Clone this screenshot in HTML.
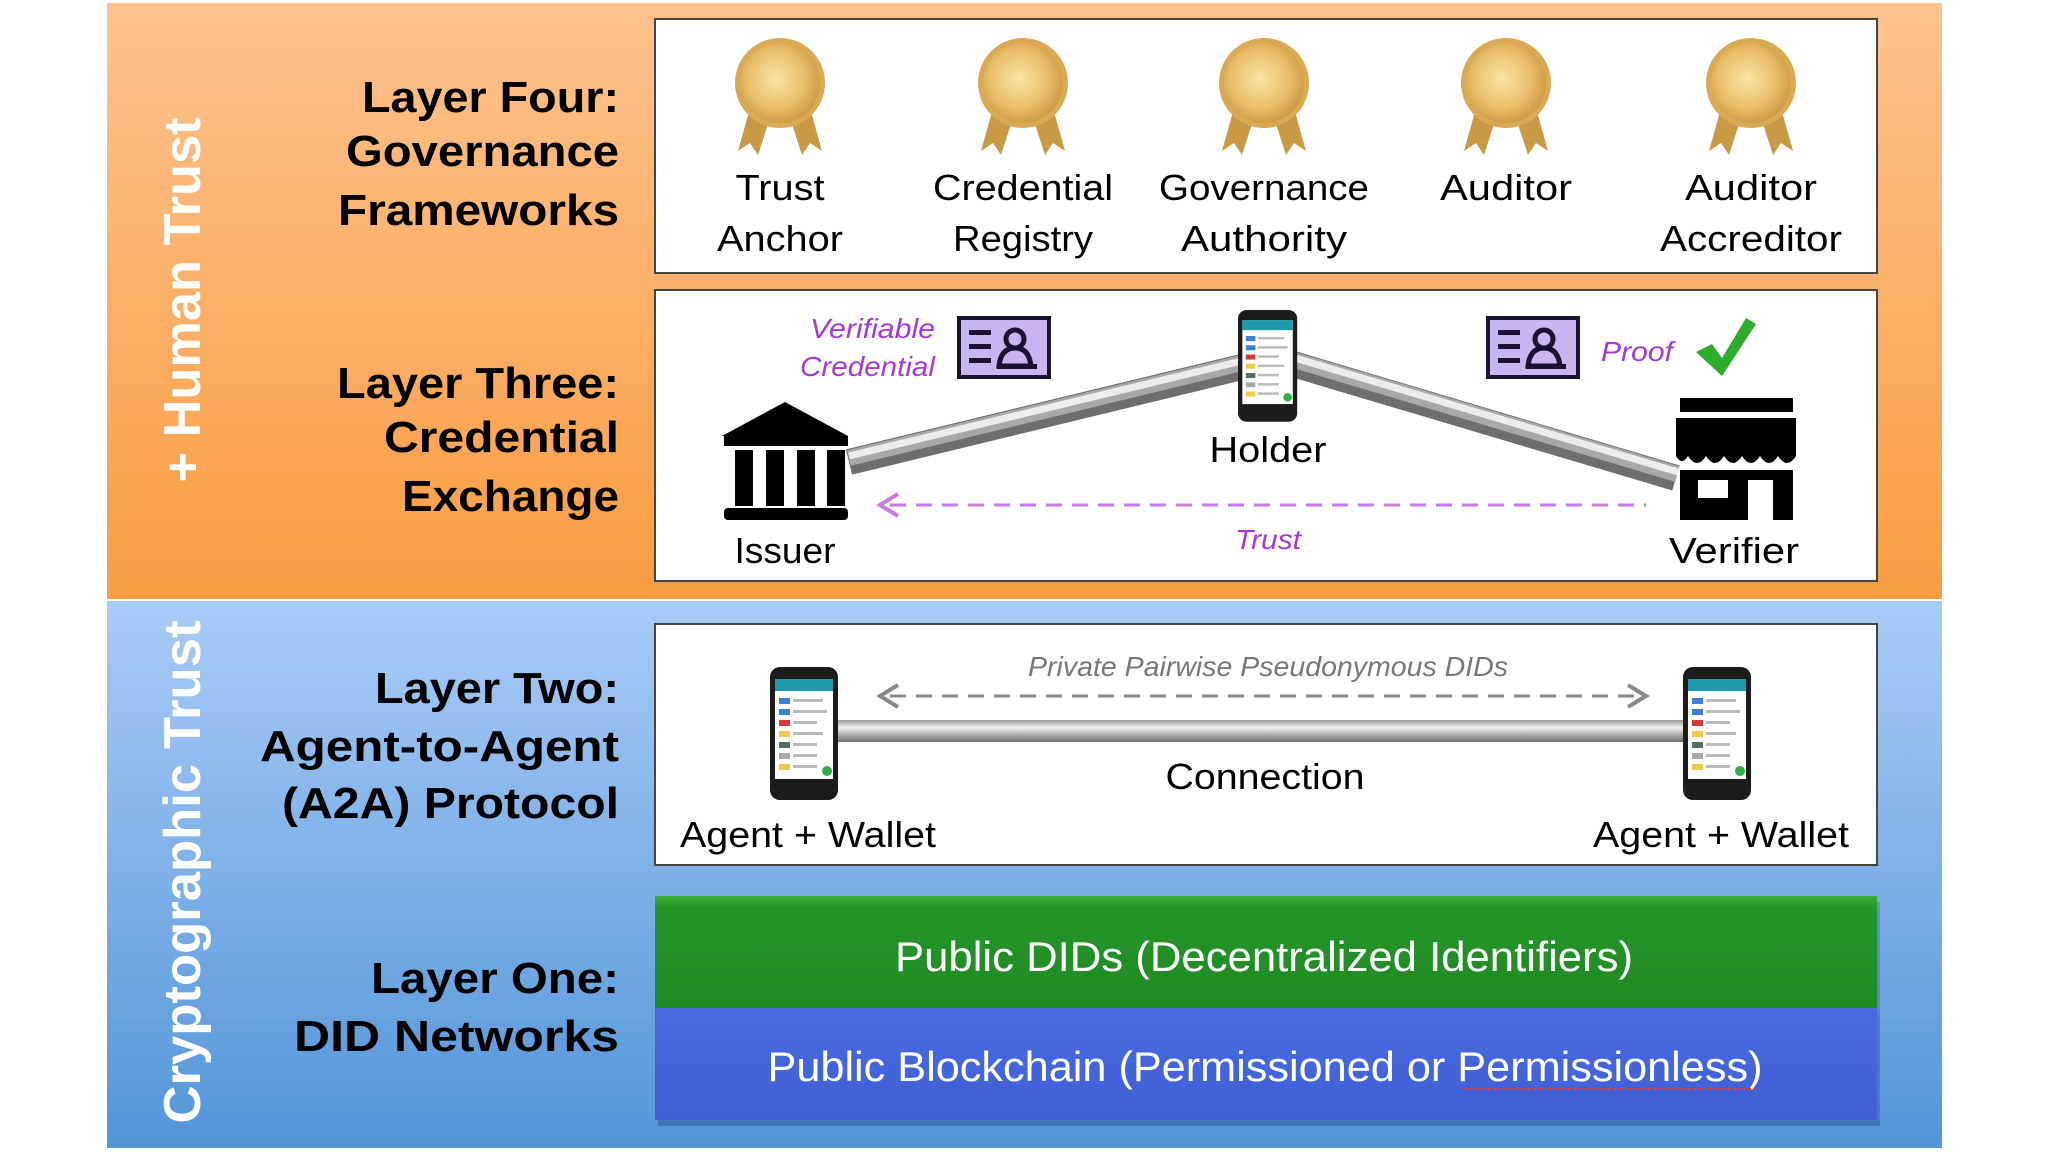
<!DOCTYPE html>
<html><head><meta charset="utf-8"><style>
html,body{margin:0;padding:0;background:#fff;}
svg{display:block;}
text{font-family:"Liberation Sans",sans-serif;}
</style></head><body>
<svg width="2048" height="1152" viewBox="0 0 2048 1152" xmlns="http://www.w3.org/2000/svg">
<defs>
<linearGradient id="og" x1="0" y1="0" x2="0" y2="1"><stop offset="0" stop-color="#fdc28e"/><stop offset="1" stop-color="#f99d42"/></linearGradient>
<linearGradient id="bg" x1="0" y1="0" x2="0" y2="1"><stop offset="0" stop-color="#a9cbf6"/><stop offset="1" stop-color="#5395d8"/></linearGradient>
<radialGradient id="gold" cx="0.45" cy="0.45" r="0.6"><stop offset="0" stop-color="#fbe3a4"/><stop offset="0.6" stop-color="#e8be6a"/><stop offset="1" stop-color="#c9953c"/></radialGradient>
<linearGradient id="tubeH" x1="0" y1="0" x2="0" y2="1"><stop offset="0" stop-color="#9a9a9a"/><stop offset="0.35" stop-color="#f2f2f2"/><stop offset="0.7" stop-color="#a8a8a8"/><stop offset="1" stop-color="#6e6e6e"/></linearGradient>
<linearGradient id="green" x1="0" y1="0" x2="0" y2="1"><stop offset="0" stop-color="#3fae3a"/><stop offset="0.1" stop-color="#25962a"/><stop offset="1" stop-color="#1f8a22"/></linearGradient>
<linearGradient id="blue" x1="0" y1="0" x2="0" y2="1"><stop offset="0" stop-color="#4a6ae0"/><stop offset="1" stop-color="#3f5fd6"/></linearGradient>
<g id="medal">
 <polygon points="-30,25 -42,68 -30,60 -22,72 -10,35" fill="#c99a45"/>
 <polygon points="30,25 42,68 30,60 22,72 10,35" fill="#c99a45"/>
 <circle r="45" fill="#d9a954"/>
 <circle r="40" fill="url(#gold)"/>
</g>
<g id="phone">
 <rect x="0" y="0" width="68" height="133" rx="10" fill="#1c1c1c"/>
 <rect x="5" y="12" width="58" height="100" fill="#fff"/>
 <rect x="5" y="12" width="58" height="12" fill="#1e9aa8"/>
 <rect x="9" y="31" width="11" height="6" fill="#3d7fd6"/><rect x="23" y="32" width="30" height="3" fill="#bbb"/>
 <rect x="9" y="42" width="11" height="6" fill="#3d7fd6"/><rect x="23" y="43" width="34" height="3" fill="#bbb"/>
 <rect x="9" y="53" width="11" height="6" fill="#d63a3a"/><rect x="23" y="54" width="24" height="3" fill="#bbb"/>
 <rect x="9" y="64" width="11" height="6" fill="#f3c94a"/><rect x="23" y="65" width="30" height="3" fill="#bbb"/>
 <rect x="9" y="75" width="11" height="6" fill="#56705f"/><rect x="23" y="76" width="24" height="3" fill="#bbb"/>
 <rect x="9" y="86" width="11" height="6" fill="#aaa"/><rect x="23" y="87" width="24" height="3" fill="#bbb"/>
 <rect x="9" y="97" width="11" height="6" fill="#f3c94a"/><rect x="23" y="98" width="24" height="3" fill="#bbb"/>
 <circle cx="57" cy="104" r="5" fill="#2fae4a"/>
</g>
<g id="card">
 <rect x="0" y="0" width="94" height="63" fill="#1a1030"/>
 <rect x="4" y="4" width="86" height="55" fill="#c9b3f0"/>
 <rect x="12" y="14" width="22" height="5" fill="#1a1030"/>
 <rect x="12" y="28" width="22" height="5" fill="#1a1030"/>
 <rect x="12" y="42" width="22" height="5" fill="#1a1030"/>
 <circle cx="58" cy="23" r="9" fill="none" stroke="#1a1030" stroke-width="5"/>
 <path d="M42,50 Q44,32 58,32 Q72,32 74,50 Z" fill="none" stroke="#1a1030" stroke-width="5"/>
 <rect x="40" y="48" width="40" height="5" fill="#1a1030"/>
</g>
</defs>

<rect x="107" y="3" width="1835" height="596" fill="url(#og)"/>
<rect x="107" y="601" width="1835" height="547" fill="url(#bg)"/>

<text transform="translate(200,300) rotate(-90)" text-anchor="middle" font-size="52" font-weight="bold" fill="#fff" textLength="365" lengthAdjust="spacingAndGlyphs">+ Human Trust</text>
<text transform="translate(200,872) rotate(-90)" text-anchor="middle" font-size="52" font-weight="bold" fill="#fff" textLength="503" lengthAdjust="spacingAndGlyphs">Cryptographic Trust</text>

<g font-size="44" font-weight="bold" fill="#000" text-anchor="end">
<text x="619" y="112" textLength="257" lengthAdjust="spacingAndGlyphs">Layer Four:</text>
<text x="619" y="166" textLength="273" lengthAdjust="spacingAndGlyphs">Governance</text>
<text x="619" y="225" textLength="281" lengthAdjust="spacingAndGlyphs">Frameworks</text>
<text x="619" y="398" textLength="282" lengthAdjust="spacingAndGlyphs">Layer Three:</text>
<text x="619" y="452" textLength="235" lengthAdjust="spacingAndGlyphs">Credential</text>
<text x="619" y="511" textLength="217" lengthAdjust="spacingAndGlyphs">Exchange</text>
<text x="619" y="703" textLength="244" lengthAdjust="spacingAndGlyphs">Layer Two:</text>
<text x="619" y="761" textLength="359" lengthAdjust="spacingAndGlyphs">Agent-to-Agent</text>
<text x="619" y="818" textLength="337" lengthAdjust="spacingAndGlyphs">(A2A) Protocol</text>
<text x="619" y="993" textLength="248" lengthAdjust="spacingAndGlyphs">Layer One:</text>
<text x="619" y="1051" textLength="325" lengthAdjust="spacingAndGlyphs">DID Networks</text>
</g>

<rect x="655" y="19" width="1222" height="254" fill="#fff" stroke="#444" stroke-width="2"/>
<rect x="655" y="290" width="1222" height="291" fill="#fff" stroke="#444" stroke-width="2"/>
<rect x="655" y="624" width="1222" height="241" fill="#fff" stroke="#444" stroke-width="2"/>

<use href="#medal" x="780" y="83"/>
<use href="#medal" x="1023" y="83"/>
<use href="#medal" x="1264" y="83"/>
<use href="#medal" x="1506" y="83"/>
<use href="#medal" x="1751" y="83"/>
<g font-size="36" fill="#000" text-anchor="middle">
<text x="780" y="200" textLength="89" lengthAdjust="spacingAndGlyphs">Trust</text>
<text x="780" y="251" textLength="126" lengthAdjust="spacingAndGlyphs">Anchor</text>
<text x="1023" y="200" textLength="180" lengthAdjust="spacingAndGlyphs">Credential</text>
<text x="1023" y="251" textLength="140" lengthAdjust="spacingAndGlyphs">Registry</text>
<text x="1264" y="200" textLength="210" lengthAdjust="spacingAndGlyphs">Governance</text>
<text x="1264" y="251" textLength="166" lengthAdjust="spacingAndGlyphs">Authority</text>
<text x="1506" y="200" textLength="132" lengthAdjust="spacingAndGlyphs">Auditor</text>
<text x="1751" y="200" textLength="132" lengthAdjust="spacingAndGlyphs">Auditor</text>
<text x="1751" y="251" textLength="182" lengthAdjust="spacingAndGlyphs">Accreditor</text>
</g>

<!-- tubes -->
<g stroke-linecap="butt">
<line x1="849" y1="462" x2="1254" y2="364" stroke="#6e6e6e" stroke-width="26"/>
<line x1="849" y1="458" x2="1254" y2="360" stroke="#a8a8a8" stroke-width="16"/>
<line x1="849" y1="456" x2="1254" y2="358" stroke="#ececec" stroke-width="7"/>
<line x1="1293" y1="364" x2="1676" y2="478" stroke="#6e6e6e" stroke-width="26"/>
<line x1="1294" y1="360" x2="1677" y2="474" stroke="#a8a8a8" stroke-width="16"/>
<line x1="1295" y1="358" x2="1678" y2="472" stroke="#ececec" stroke-width="7"/>
</g>
<use href="#phone" transform="translate(1238,310) scale(0.87,0.84)"/>
<g fill="#000">
 <polygon points="785,402 848,436 722,436"/>
 <rect x="724" y="436" width="124" height="10"/>
 <rect x="735" y="450" width="18" height="56"/>
 <rect x="766" y="450" width="18" height="56"/>
 <rect x="797" y="450" width="18" height="56"/>
 <rect x="827" y="450" width="18" height="56"/>
 <rect x="724" y="508" width="124" height="12" rx="4"/>
</g>
<g fill="#000">
 <rect x="1680" y="398" width="113" height="14"/>
 <path d="M1676,418 H1796 V456 Q1787,470 1778,456 Q1769,470 1760,456 Q1751,470 1742,456 Q1733,470 1724,456 Q1715,470 1706,456 Q1697,470 1688,456 Q1682,466 1676,456 Z"/>
 <path d="M1680,470 H1793 V520 H1680 Z M1698,480 V498 H1728 V480 Z M1748,480 V520 H1773 V480 Z" fill-rule="evenodd"/>
</g>
<line x1="890" y1="505" x2="1646" y2="505" stroke="#c77ae8" stroke-width="3" stroke-dasharray="16,10"/>
<polyline points="898,494 880,505 898,516" fill="none" stroke="#c77ae8" stroke-width="4"/>
<use href="#card" x="957" y="316"/>
<use href="#card" x="1486" y="316"/>
<g font-size="28" font-style="italic" fill="#a837d8" text-anchor="end">
<text x="935" y="338" textLength="125" lengthAdjust="spacingAndGlyphs">Verifiable</text>
<text x="935" y="376" textLength="135" lengthAdjust="spacingAndGlyphs">Credential</text>
<text x="1673" y="361" textLength="72" lengthAdjust="spacingAndGlyphs">Proof</text>
<text x="1268" y="549" text-anchor="middle" textLength="66" lengthAdjust="spacingAndGlyphs">Trust</text>
</g>
<path d="M1696,352 L1712,344 L1722,358 L1746,318 L1756,324 L1722,376 Z" fill="#2cae2c"/>
<g font-size="36" fill="#000" text-anchor="middle">
<text x="1268" y="462" textLength="117" lengthAdjust="spacingAndGlyphs">Holder</text>
<text x="785" y="563" textLength="101" lengthAdjust="spacingAndGlyphs">Issuer</text>
<text x="1734" y="563" textLength="130" lengthAdjust="spacingAndGlyphs">Verifier</text>
</g>

<rect x="837" y="720" width="846" height="22" fill="url(#tubeH)"/>
<use href="#phone" x="770" y="667"/>
<use href="#phone" x="1683" y="667"/>
<line x1="890" y1="696" x2="1636" y2="696" stroke="#888" stroke-width="3" stroke-dasharray="16,10"/>
<polyline points="898,685 880,696 898,707" fill="none" stroke="#888" stroke-width="4"/>
<polyline points="1628,685 1646,696 1628,707" fill="none" stroke="#888" stroke-width="4"/>
<text x="1268" y="676" font-size="28" font-style="italic" fill="#777" text-anchor="middle" textLength="480" lengthAdjust="spacingAndGlyphs">Private Pairwise Pseudonymous DIDs</text>
<g font-size="36" fill="#000" text-anchor="middle">
<text x="1265" y="789" textLength="199" lengthAdjust="spacingAndGlyphs">Connection</text>
<text x="808" y="847" textLength="256" lengthAdjust="spacingAndGlyphs">Agent + Wallet</text>
<text x="1721" y="847" textLength="256" lengthAdjust="spacingAndGlyphs">Agent + Wallet</text>
</g>

<rect x="658" y="902" width="1222" height="112" fill="#2a5a9e" opacity="0.35"/>
<rect x="655" y="896" width="1222" height="112" fill="url(#green)"/>
<rect x="658" y="1014" width="1222" height="112" fill="#2a4a8e" opacity="0.4"/>
<rect x="655" y="1008" width="1222" height="112" fill="url(#blue)"/>
<g font-size="42" fill="#fff" text-anchor="middle">
<text x="1264" y="971" textLength="738" lengthAdjust="spacingAndGlyphs">Public DIDs (Decentralized Identifiers)</text>
<text x="1265" y="1081" textLength="995" lengthAdjust="spacingAndGlyphs">Public Blockchain (Permissioned or Permissionless)</text>
</g>
<line x1="1463" y1="1089" x2="1756" y2="1089" stroke="#e04040" stroke-width="2" stroke-dasharray="3,2"/>
</svg>
</body></html>
